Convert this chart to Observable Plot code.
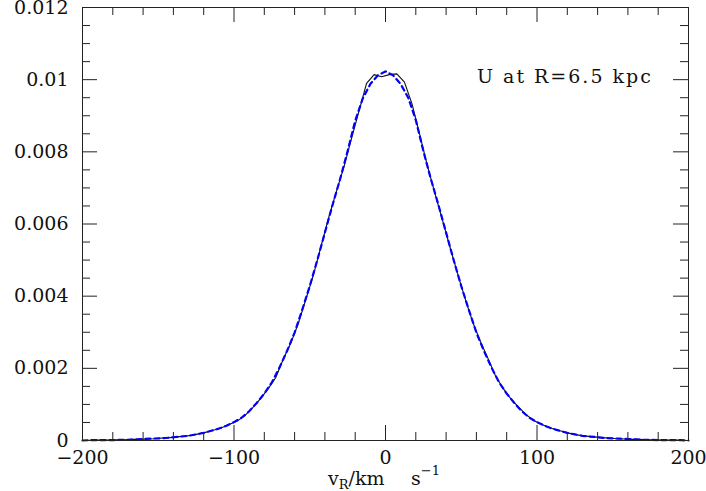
<!DOCTYPE html>
<html><head><meta charset="utf-8">
<script src="https://cdn.jsdelivr.net/npm/d3@7"></script>
<script src="https://cdn.jsdelivr.net/npm/@observablehq/plot@0.6"></script>
<style>body{margin:0;background:#fff}</style>
</head><body><div id="chart"></div>
<script>
// Histogram (black, solid): bin centres (km/s) and values
const vHist = [-197.5,-192.5,-187.5,-182.5,-177.5,-172.5,-167.5,-162.5,-157.5,-152.5,
  -147.5,-142.5,-137.5,-132.5,-127.5,-122.5,-117.5,-112.5,-107.5,-102.5,
  -97.5,-92.5,-87.5,-82.5,-77.5,-72.5,-67.5,-62.5,-57.5,-52.5,
  -47.5,-42.5,-37.5,-32.5,-27.5,-22.5,-17.5,-12.5,-7.5,-2.5,
  2.5,7.5,12.5,17.5,22.5,27.5,32.5,37.5,42.5,47.5,
  52.5,57.5,62.5,67.5,72.5,77.5,82.5,87.5,92.5,97.5,
  102.5,107.5,112.5,117.5,122.5,127.5,132.5,137.5,142.5,147.5,
  152.5,157.5,162.5,167.5,172.5,177.5,182.5,187.5,192.5,197.5];
const fHist = [0.00000,0.00001,0.00001,0.00001,0.00002,0.00002,0.00003,0.00003,0.00004,0.00005,
  0.00007,0.00008,0.00010,0.00012,0.00015,0.00019,0.00024,0.00030,0.00037,0.00046,
  0.00055,0.00070,0.00092,0.00116,0.00143,0.00174,0.00225,0.00270,0.00325,0.00392,
  0.00460,0.00539,0.00618,0.00689,0.00757,0.00836,0.00913,0.00990,0.01014,0.01008,
  0.01014,0.01016,0.00993,0.00933,0.00850,0.00764,0.00687,0.00612,0.00537,0.00464,
  0.00394,0.00329,0.00276,0.00229,0.00180,0.00145,0.00117,0.00094,0.00073,0.00056,
  0.00046,0.00037,0.00030,0.00024,0.00019,0.00015,0.00012,0.00010,0.00008,0.00007,
  0.00005,0.00004,0.00003,0.00003,0.00002,0.00002,0.00001,0.00001,0.00001,0.00000];

// Model (blue, dashed)
const vModel = [-200,-195,-190,-185,-180,-175,-170,-165,-160,-155,-150,-145,-140,-135,-130,-125,-120,-115,-110,-105,
  -100,-95,-90,-85,-80,-75,-70,-65,-60,-55,-50,-45,-40,-35,-30,-25,-20,-15,-10,-5,
  0,5,10,15,20,25,30,35,40,45,50,55,60,65,70,75,80,85,90,95,
  100,105,110,115,120,125,130,135,140,145,150,155,160,165,170,175,180,185,190,195,200];
const fModel = [0.00000,0.00001,0.00001,0.00001,0.00001,0.00002,0.00002,0.00003,0.00004,0.00005,0.00006,0.00007,0.00009,0.00011,0.00013,0.00017,0.00021,0.00027,0.00033,0.00041,
  0.00051,0.00063,0.00081,0.00104,0.00130,0.00161,0.00202,0.00248,0.00299,0.00362,0.00428,0.00500,0.00576,0.00652,0.00724,0.00802,0.00886,0.00948,0.00988,0.01012,
  0.01023,0.01012,0.00988,0.00950,0.00888,0.00802,0.00724,0.00652,0.00576,0.00500,0.00428,0.00362,0.00299,0.00248,0.00202,0.00161,0.00130,0.00104,0.00081,0.00063,
  0.00051,0.00041,0.00033,0.00027,0.00021,0.00017,0.00013,0.00011,0.00009,0.00007,0.00006,0.00005,0.00004,0.00003,0.00002,0.00002,0.00001,0.00001,0.00001,0.00001,0.00000];

const xMajorTicks = [-200,-100,0,100,200];
const xTickLabels = ["\u2212200","\u2212100","0","100","200"];
const xMinorTicks = [-180,-160,-140,-120,-80,-60,-40,-20,20,40,60,80,120,140,160,180];
const yMajorTicks = [0,0.002,0.004,0.006,0.008,0.01,0.012];
const yTickLabels = ["0","0.002","0.004","0.006","0.008","0.01","0.012"];
const yMinorTicks = [0.0005,0.001,0.0015,0.0025,0.003,0.0035,0.0045,0.005,0.0055,0.0065,0.007,0.0075,
  0.0085,0.009,0.0095,0.0105,0.011,0.0115];
const annotation = "U at R=6.5 kpc";

const hist = vHist.map((v,i)=>({v, f:fHist[i]}));
const model = vModel.map((v,i)=>({v, f:fModel[i]}));

const W = 706, H = 491, mL = 82, mR = 18, mT = 7, mB = 51;
const fw = W - mL - mR, fh = H - mT - mB;
const major = 15, minor = 8;

const svg = Plot.plot({
  width: W, height: H,
  marginLeft: mL, marginRight: mR, marginTop: mT, marginBottom: mB,
  style: {fontFamily: "DejaVu Serif", fontSize: "19px", background: "white", color: "black", overflow: "visible"},
  x: {domain: [-200, 200], axis: null},
  y: {domain: [0, 0.012], axis: null},
  marks: [
    Plot.line(hist, {x: "v", y: "f", stroke: "#111", strokeWidth: 1.1}),
    Plot.line(model, {x: "v", y: "f", stroke: "#0000ff", strokeWidth: 2.2, strokeDasharray: "5,4"}),
    Plot.frame({stroke: "#222", strokeWidth: 1}),
    Plot.ruleX(xMajorTicks, {insetTop: fh - major, stroke: "#222"}),
    Plot.ruleX(xMajorTicks, {insetBottom: fh - major, stroke: "#222"}),
    Plot.ruleX(xMinorTicks, {insetTop: fh - minor, stroke: "#222"}),
    Plot.ruleX(xMinorTicks, {insetBottom: fh - minor, stroke: "#222"}),
    Plot.ruleY(yMajorTicks, {insetRight: fw - major, stroke: "#222"}),
    Plot.ruleY(yMajorTicks, {insetLeft: fw - major, stroke: "#222"}),
    Plot.ruleY(yMinorTicks, {insetRight: fw - minor, stroke: "#222"}),
    Plot.ruleY(yMinorTicks, {insetLeft: fw - minor, stroke: "#222"}),
    Plot.axisX(xMajorTicks, {tickSize: 0, tickPadding: 10, fontSize: 19, label: null, tickFormat: (d,i)=>xTickLabels[i], fill: "#111"}),
    Plot.axisY(yMajorTicks, {tickSize: 0, tickPadding: 14, fontSize: 19, label: null, tickFormat: (d,i)=>yTickLabels[i], fill: "#111"})
  ]
});

const s = d3.select(svg);
s.append("text").attr("x", 477).attr("y", 83).attr("font-size", 19).attr("text-anchor", "start")
  .attr("letter-spacing", "2px").attr("fill", "#111").text(annotation);

const lab = s.append("text").attr("y", 485).attr("font-size", 19).attr("text-anchor", "start").attr("fill", "#111");
lab.append("tspan").attr("x", 328).text("v");
lab.append("tspan").attr("font-size", 13).attr("dy", 4).text("R");
lab.append("tspan").attr("dy", -4).text("/km");
lab.append("tspan").attr("x", 411).text("s");
lab.append("tspan").attr("font-size", 13).attr("dy", -10).text("\u22121");

document.getElementById("chart").appendChild(svg);
</script>
</body></html>
